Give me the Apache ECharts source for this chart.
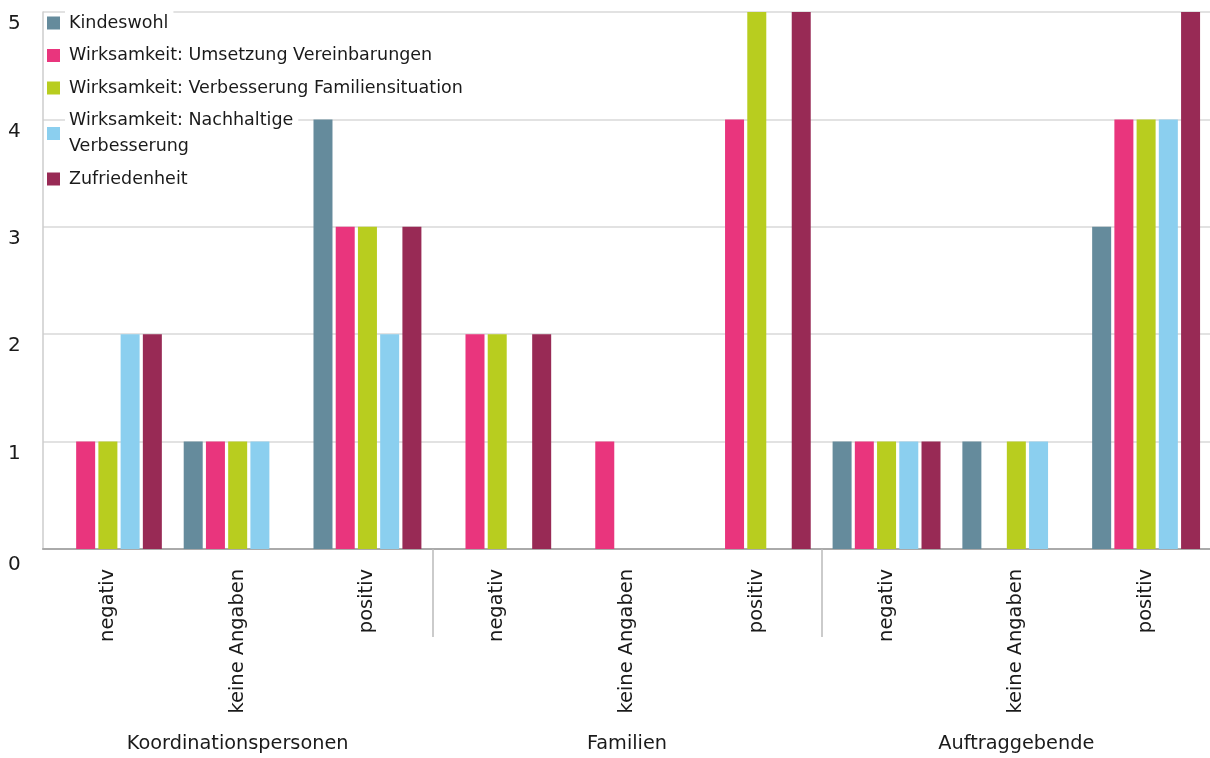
<!DOCTYPE html>
<html><head><meta charset="utf-8">
<script src="https://cdn.jsdelivr.net/npm/echarts@6/dist/echarts.min.js"></script>
<style>html,body{margin:0;padding:0;background:#fff}#c{width:1210px;height:758px}</style>
</head><body><div id="c"></div>
<script>
const categories = ['negativ','keine Angaben','positiv','negativ','keine Angaben','positiv','negativ','keine Angaben','positiv'];
const groups = ['Koordinationspersonen','Familien','Auftraggebende'];
const seriesNames = ['Kindeswohl','Wirksamkeit: Umsetzung Vereinbarungen','Wirksamkeit: Verbesserung Familiensituation','Wirksamkeit: Nachhaltige Verbesserung','Zufriedenheit'];
const kindeswohl   = [0,1,4, 0,0,0, 1,1,3];
const umsetzung    = [1,1,3, 2,1,4, 1,0,4];
const familiensit  = [1,1,3, 2,0,5, 1,1,4];
const nachhaltig   = [2,1,2, 0,0,0, 1,1,4];
const zufriedenheit= [2,0,3, 2,0,5, 1,0,5];
const yTicks = [0,1,2,3,4,5];
const colors = ['#658B9C','#E9357D','#B8CD1F','#8BCFEF','#982A55'];
const values = [kindeswohl, umsetzung, familiensit, nachhaltig, zufriedenheit];

const font = 'DejaVu Sans';
const txt = '#1a1a1a';
const chart = echarts.init(document.getElementById('c'));
chart.setOption({
  animation: false,
  color: colors,
  textStyle: {fontFamily: font},
  grid: {left: 43, width: 1168, top: 12, bottom: 209, outerBoundsMode: 'none', containLabel: false},
  legend: {
    orient: 'vertical', left: 42, top: 5,
    itemWidth: 13, itemHeight: 13, itemGap: 6.5,
    icon: 'rect',
    formatter: n => n === 'Wirksamkeit: Nachhaltige Verbesserung' ? 'Wirksamkeit: Nachhaltige\nVerbesserung' : n,
    textStyle: {fontSize: 17.5, color: txt, fontFamily: font, lineHeight: 26, backgroundColor: '#fff', padding: [0, 5, 0, 4]},
    data: seriesNames
  },
  xAxis: [{
    type: 'category', data: categories, position: 'bottom',
    axisLine: {lineStyle: {color: '#aaa', width: 2}},
    axisTick: {show: true, length: 88, lineStyle: {color: '#bbb', width: 1.5}, interval: (i) => i === 3 || i === 6},
    axisLabel: {rotate: 90, interval: 0, fontSize: 19.4, color: txt, margin: 20, fontFamily: font}
  }, {
    type: 'category', data: groups, position: 'bottom',
    axisLine: {show: false}, axisTick: {show: false},
    axisLabel: {fontSize: 19.3, color: txt, margin: 185, fontFamily: font, interval: 0}
  }],
  yAxis: {
    type: 'value', min: 0, max: 5, interval: 1,
    axisLine: {show: true, lineStyle: {color: '#ccc', width: 1.5}},
    axisTick: {show: false},
    splitLine: {lineStyle: {color: '#d9d9d9', width: 1.5}},
    axisLabel: {align: 'left', margin: 35, verticalAlign: 'top', fontSize: 20, color: txt, fontFamily: font,
      formatter: v => v === 0 ? '{z|0}' : (yTicks.includes(v) ? '{n|' + v + '}' : ''),
      rich: {
        z: {fontSize: 20, fontFamily: font, color: txt, padding: [6, 0, 0, 0]},
        n: {fontSize: 20, fontFamily: font, color: txt, padding: [2, 0, 0, 0]}
      }}
  },
  series: seriesNames.map((n, i) => ({
    name: n, type: 'bar', data: values[i], xAxisIndex: 0,
    barWidth: 19, barGap: '17%',
    itemStyle: {color: colors[i]}
  }))
});
</script></body></html>
